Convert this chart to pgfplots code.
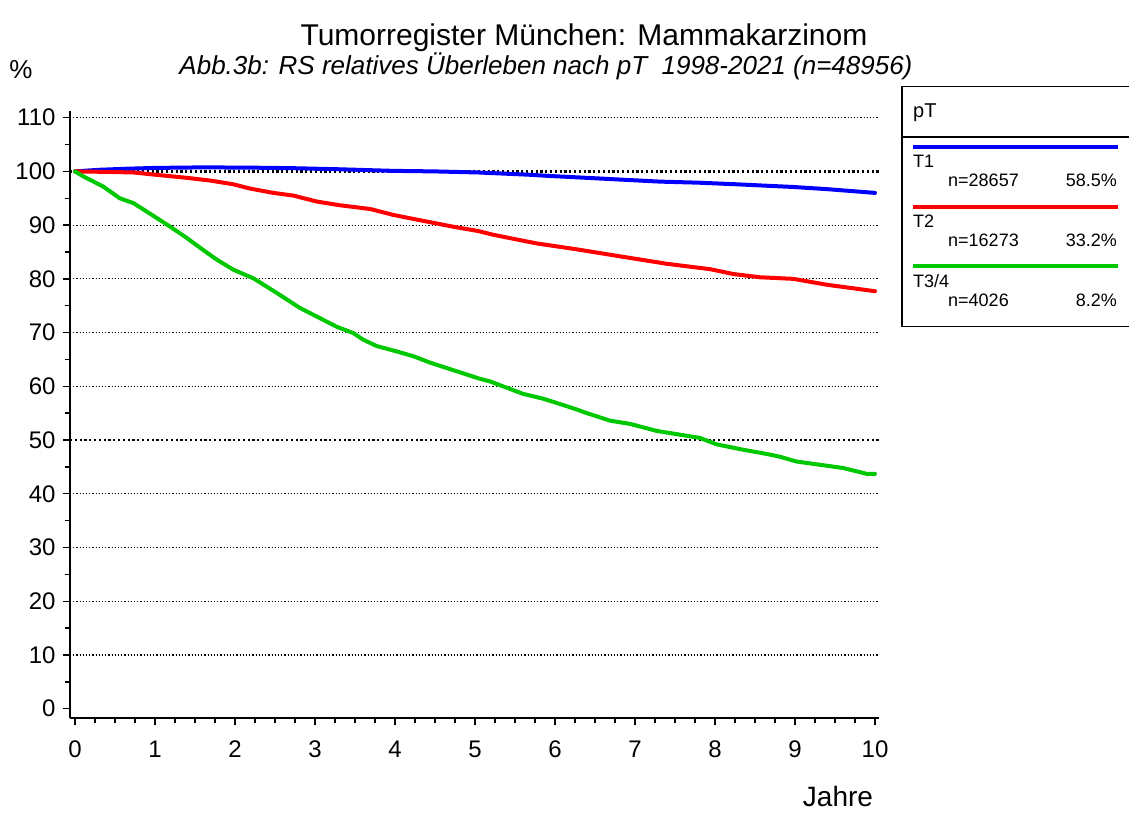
\documentclass[border=0pt]{standalone}
\usepackage{fontspec}
\setmainfont{Liberation Sans}
\usepackage{pgfplots}
\pgfplotsset{compat=1.18}
\definecolor{cblue}{RGB}{0,0,255}
\definecolor{cred}{RGB}{255,0,0}
\definecolor{cgreen}{RGB}{0,200,0}
\newcommand{\fs}[1]{\fontsize{#1}{#1}\selectfont}
\begin{document}
\begin{tikzpicture}
\useasboundingbox (-70pt,-94.3pt) rectangle (1059pt,717.7pt);
\begin{axis}[
  at={(0pt,0pt)}, anchor=south west,
  scale only axis, width=809pt, height=607pt,
  xmin=-0.0625, xmax=10.05, ymin=-1.68, ymax=111.3,
  axis x line*=bottom, axis y line*=left,
  axis line style={line width=1.6pt, -},
  xtick={0,...,10}, ytick={0,10,...,110},
  minor x tick num=3, minor y tick num=1,
  tick align=outside,
  major tick length=7pt, minor tick length=5pt,
  every tick/.style={line width=1.4pt, black},
  ticklabel style={font=\fs{24}},
  xticklabel style={yshift=-13pt},
  yticklabel style={xshift=-4pt},
  /pgf/number format/assume math mode=true,
  clip=false,
]
\pgfplotsinvokeforeach{10,20,30,40,60,70,80,90,110}{
  \draw[line width=1.2pt, dash pattern=on 1.2pt off 2pt] (axis cs:-0.0625,#1) -- (axis cs:10.05,#1);
}
\pgfplotsinvokeforeach{50,100}{
  \draw[line width=2.2pt, dash pattern=on 2.2pt off 2.6pt] (axis cs:-0.0625,#1) -- (axis cs:10.05,#1);
}
\addplot[cblue, line width=4pt, line join=round, line cap=round] coordinates {
(0,100) (0.3,100.3) (0.65,100.5) (1,100.65) (1.6,100.75) (2.2,100.7) (2.73,100.6) (3.3,100.4) (3.98,100.1) (4.5,100.0) (5.04,99.8) (5.65,99.4) (6.0,99.1) (6.4,98.8) (7.31,98.1) (7.8,97.9) (8.27,97.6) (8.98,97.1) (9.4,96.7) (10,96.0)
};
\addplot[cred, line width=4pt, line join=round, line cap=round] coordinates {
(0,100) (0.44,99.9) (0.73,99.8) (1.06,99.3) (1.4,98.8) (1.69,98.3) (1.98,97.6) (2.19,96.8) (2.48,96.0) (2.73,95.5) (3.02,94.4) (3.31,93.7) (3.69,93.0) (3.98,91.9) (4.35,90.8) (4.73,89.7) (5.04,88.9) (5.23,88.2) (5.77,86.6) (6.27,85.5) (6.81,84.2) (7.40,82.8) (7.94,81.8) (8.23,80.9) (8.56,80.3) (8.98,80.0) (9.40,78.9) (10,77.7)
};
\addplot[cgreen, line width=4pt, line join=round, line cap=round] coordinates {
(0,100) (0.10,99.1) (0.35,97.2) (0.56,95.0) (0.73,94.1) (0.92,92.3) (1.15,90.1) (1.37,87.9) (1.60,85.4) (1.77,83.6) (1.98,81.7) (2.23,80.1) (2.52,77.4) (2.81,74.6) (3.02,73.0) (3.27,71.1) (3.48,69.9) (3.60,68.7) (3.77,67.5) (4.02,66.5) (4.23,65.6) (4.44,64.4) (4.73,63.0) (5.04,61.5) (5.19,60.9) (5.60,58.6) (5.85,57.7) (5.98,57.1) (6.23,55.9) (6.40,55.0) (6.69,53.6) (6.94,53.0) (7.27,51.7) (7.52,51.1) (7.81,50.4) (8.02,49.2) (8.35,48.2) (8.65,47.4) (8.81,46.9) (9.02,46.0) (9.31,45.4) (9.60,44.8) (9.90,43.7) (10,43.7)
};
\end{axis}
% titles
\node[anchor=base, inner sep=0] at (514pt,671.7pt) {\fs{30}Tumorregister München: Mammakarzinom};
\node[anchor=base, inner sep=0] at (476pt,642.7pt) {\fs{26}\itshape Abb.3b: RS relatives Überleben nach pT\ \ 1998-2021 (n=48956)};
\node[anchor=base, inner sep=0] at (-49pt,639pt) {\fs{26}\%};
\node[anchor=base, inner sep=0] at (768pt,-89pt) {\fs{28}Jahre};
% legend
\draw[line width=1.6pt] (1070pt,631pt) -- (831.7pt,631pt) -- (831.7pt,391pt) -- (1070pt,391pt);
\draw[line width=1.6pt] (831.7pt,580.4pt) -- (1070pt,580.4pt);
\node[anchor=base west, inner sep=0] at (843pt,599.7pt) {\fs{20}pT};
\draw[cblue, line width=4pt] (843pt,571pt) -- (1048pt,571pt);
\draw[cred, line width=4pt] (843pt,511pt) -- (1048pt,511pt);
\draw[cgreen, line width=4pt] (843pt,451.7pt) -- (1048pt,451.7pt);
\node[anchor=base west, inner sep=0] at (843pt,549.7pt) {\fs{18}T1};
\node[anchor=base west, inner sep=0] at (878pt,530.7pt) {\fs{18}n=28657};
\node[anchor=base east, inner sep=0] at (1047pt,530.7pt) {\fs{18}58.5\%};
\node[anchor=base west, inner sep=0] at (843pt,489.7pt) {\fs{18}T2};
\node[anchor=base west, inner sep=0] at (878pt,470.7pt) {\fs{18}n=16273};
\node[anchor=base east, inner sep=0] at (1047pt,470.7pt) {\fs{18}33.2\%};
\node[anchor=base west, inner sep=0] at (843pt,429.7pt) {\fs{18}T3/4};
\node[anchor=base west, inner sep=0] at (878pt,410.7pt) {\fs{18}n=4026};
\node[anchor=base east, inner sep=0] at (1047pt,410.7pt) {\fs{18}8.2\%};
\end{tikzpicture}
\end{document}
